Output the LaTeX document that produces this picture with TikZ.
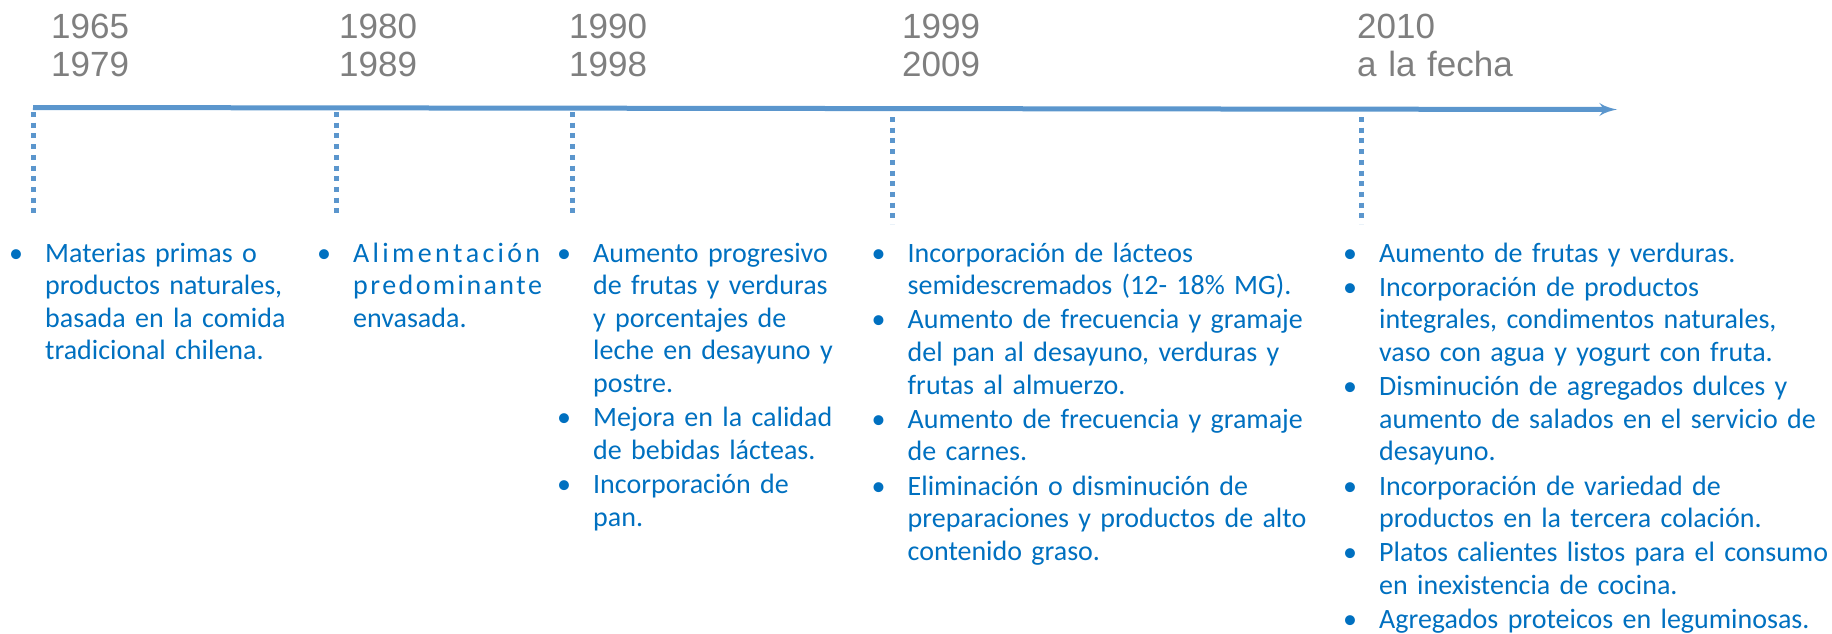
\documentclass[tikz,border=0pt]{standalone}
\usepackage{fontspec}
\setmainfont{Carlito}
\newfontfamily\yearfont{Liberation Sans}
\usepackage{tikz}
\usetikzlibrary{arrows}
\definecolor{lineblue}{RGB}{91,150,205}
\definecolor{textblue}{RGB}{0,112,192}
\definecolor{yeargray}{RGB}{127,127,127}
\newcommand{\itm}{\makebox[36pt][l]{\textbullet}}
\newcommand{\cnt}{\hspace*{36pt}}
\tikzset{
year/.style = {anchor=base west, inner sep=0, text width=250pt, align=left, text=yeargray, font=\yearfont\fontsize{35}{38}\selectfont},
items/.style = {anchor=base west, inner sep=0, text width=620pt, align=left, text=textblue, font=\fontsize{28}{32.6}\selectfont},
timeline/.style = {draw=lineblue, line width=5pt},
tickline/.style = {draw=lineblue, line width=5pt, dash pattern=on 5pt off 5.7pt}
}

\begin{document}
\begin{tikzpicture}[x=1pt, y=-1pt, >=latex']
\useasboundingbox (0,0) rectangle (1832,634);
% time axis
\coordinate (tstart) at (33,107.5);
\coordinate (tend) at (1617,109.5);
\draw[timeline,->] (tstart) -- (tend);
% dotted ticks
\coordinate (k1) at (33,112);   \coordinate (k1e) at (33,218);
\coordinate (k2) at (336,112);  \coordinate (k2e) at (336,218);
\coordinate (k3) at (572,112);  \coordinate (k3e) at (572,218);
\coordinate (k4) at (892,117);  \coordinate (k4e) at (892,224);
\coordinate (k5) at (1361,117); \coordinate (k5e) at (1361,224);
\draw[tickline] (k1) -- (k1e);
\draw[tickline] (k2) -- (k2e);
\draw[tickline] (k3) -- (k3e);
\draw[tickline] (k4) -- (k4e);
\draw[tickline] (k5) -- (k5e);
% periods
\node[year] (y1) at (51,39) {1965\\1979};
\node[year] (y2) at (339,39) {1980\\1989};
\node[year] (y3) at (569,39) {1990\\1998};
\node[year] (y4) at (902,39) {1999\\2009};
\node[year] (y5) at (1357,39) {2010\\a la fecha};
% changes in each period
\node[items] (c1) at (9,262) {\itm Materias primas o\\
\cnt productos naturales,\\
\cnt basada en la comida\\
\cnt tradicional chilena.};
\node[items] (c2) at (317,262) {\itm \makebox[187pt][s]{A\hfill l\hfill i\hfill m\hfill e\hfill n\hfill t\hfill a\hfill c\hfill i\hfill ó\hfill n}\\
\cnt \makebox[189pt][s]{p\hfill r\hfill e\hfill d\hfill o\hfill m\hfill i\hfill n\hfill a\hfill n\hfill t\hfill e}\\
\cnt envasada.};
\node[items] (c3) at (557,262) {\itm Aumento progresivo\\
\cnt de frutas y verduras\\
\cnt y porcentajes de\\
\cnt leche en desayuno y\\
\cnt postre.\\[1.6pt]
\itm Mejora en la calidad\\
\cnt de bebidas lácteas.\\[1.6pt]
\itm Incorporación de\\
\cnt pan.};
\node[items] (c4) at (871.5,262) {\itm Incorporación de lácteos\\
\cnt semidescremados (12- 18\% MG).\\[1.6pt]
\itm Aumento de frecuencia y gramaje\\
\cnt del pan al desayuno, verduras y\\
\cnt frutas al almuerzo.\\[1.6pt]
\itm Aumento de frecuencia y gramaje\\
\cnt de carnes.\\[1.6pt]
\itm Eliminación o disminución de\\
\cnt preparaciones y productos de alto\\
\cnt contenido graso.};
\node[items] (c5) at (1343,262) {\itm Aumento de frutas y verduras.\\[1.6pt]
\itm Incorporación de productos\\
\cnt integrales, condimentos naturales,\\
\cnt vaso con agua y yogurt con fruta.\\[1.6pt]
\itm Disminución de agregados dulces y\\
\cnt aumento de salados en el servicio de\\
\cnt desayuno.\\[1.6pt]
\itm Incorporación de variedad de\\
\cnt productos en la tercera colación.\\[1.6pt]
\itm Platos calientes listos para el consumo\\
\cnt en inexistencia de cocina.\\[1.6pt]
\itm Agregados proteicos en leguminosas.};
\end{tikzpicture}
\end{document}
